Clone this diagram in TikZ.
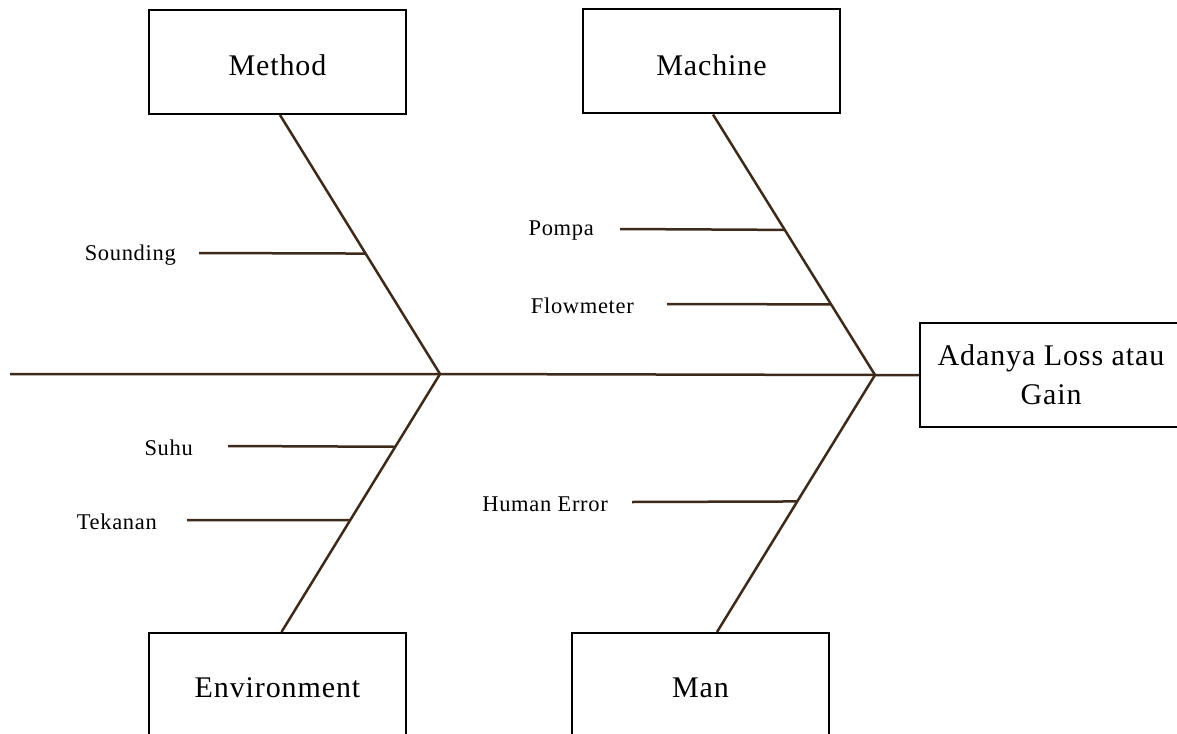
\documentclass[tikz,border=0pt]{standalone}
\usepackage{fontspec}
\setmainfont{Liberation Serif}[LetterSpace=3.0]
\usetikzlibrary{positioning,calc}

\definecolor{bonebrown}{RGB}{62,42,26}

\tikzset{
    box/.style={draw=black, line width=2pt, minimum width=257pt, minimum height=104pt,
        font=\fontsize{30}{39}\selectfont, align=center},
    bone/.style={draw=bonebrown, line width=2.5pt},
    lbl/.style={font=\fontsize{22.5}{27}\selectfont, inner sep=0pt, yshift=-2pt}
}

\begin{document}
\begin{tikzpicture}[x=1pt, y=-1pt]
        \useasboundingbox (0,0) rectangle (1177,733);

        % categories
        \node[box, text height=28pt] (method) at (277.5, 62) {Method};
        \node[box, text height=28pt] (machine) at (711.5, 61.5) {Machine};
        \node[box, minimum height=110pt] (env) at (277.5, 688) {Environment};
        \node[box, minimum height=110pt] (man) at (700.5, 688) {Man};
        \node[box, minimum width=262pt] (effect) at (1051, 375) {Adanya Loss atau\\Gain};

        % spine
        \coordinate (tail) at (10, 374);
        \coordinate (mid) at (440, 374);
        \coordinate (head) at (875, 375);
        \draw[bone] (tail) -- (mid) -- (head) -- (effect.west);

        % ribs
        \draw[bone] (mid) -- ([xshift=2.5pt]method.south);
        \draw[bone] (head) -- ([xshift=1.5pt]machine.south);
        \draw[bone] (mid) -- ([xshift=4pt]env.north);
        \draw[bone] (head) -- ([xshift=16.5pt]man.north);

        % causes
        \coordinate (sounding) at (199, 253);
        \node[lbl, left=23pt of sounding] (soundinglbl) {Sounding};
        \draw[bone] (sounding) -- ($(mid)!0.465!([xshift=2.5pt]method.south)$);

        \coordinate (pompa) at (620, 229);
        \node[lbl, left=26pt of pompa] (pompalbl) {Pompa};
        \draw[bone] (pompa) -- ($(head)!0.557!([xshift=1.5pt]machine.south)$);

        \coordinate (flow) at (667, 304);
        \node[lbl, left=33pt of flow] (flowlbl) {Flowmeter};
        \draw[bone] (flow) -- ($(head)!0.271!([xshift=1.5pt]machine.south)$);

        \coordinate (suhu) at (228, 446);
        \node[lbl, left=35pt of suhu] (suhulbl) {Suhu};
        \draw[bone] (suhu) -- ($(mid)!0.282!([xshift=4pt]env.north)$);

        \coordinate (tekanan) at (187, 520);
        \node[lbl, left=30pt of tekanan] (tekananlbl) {Tekanan};
        \draw[bone] (tekanan) -- ($(mid)!0.566!([xshift=4pt]env.north)$);

        \coordinate (human) at (632, 502);
        \node[lbl, left=24pt of human] (humanlbl) {Human Error};
        \draw[bone] (human) -- ($(head)!0.492!([xshift=16.5pt]man.north)$);
    \end{tikzpicture}
\end{document}
